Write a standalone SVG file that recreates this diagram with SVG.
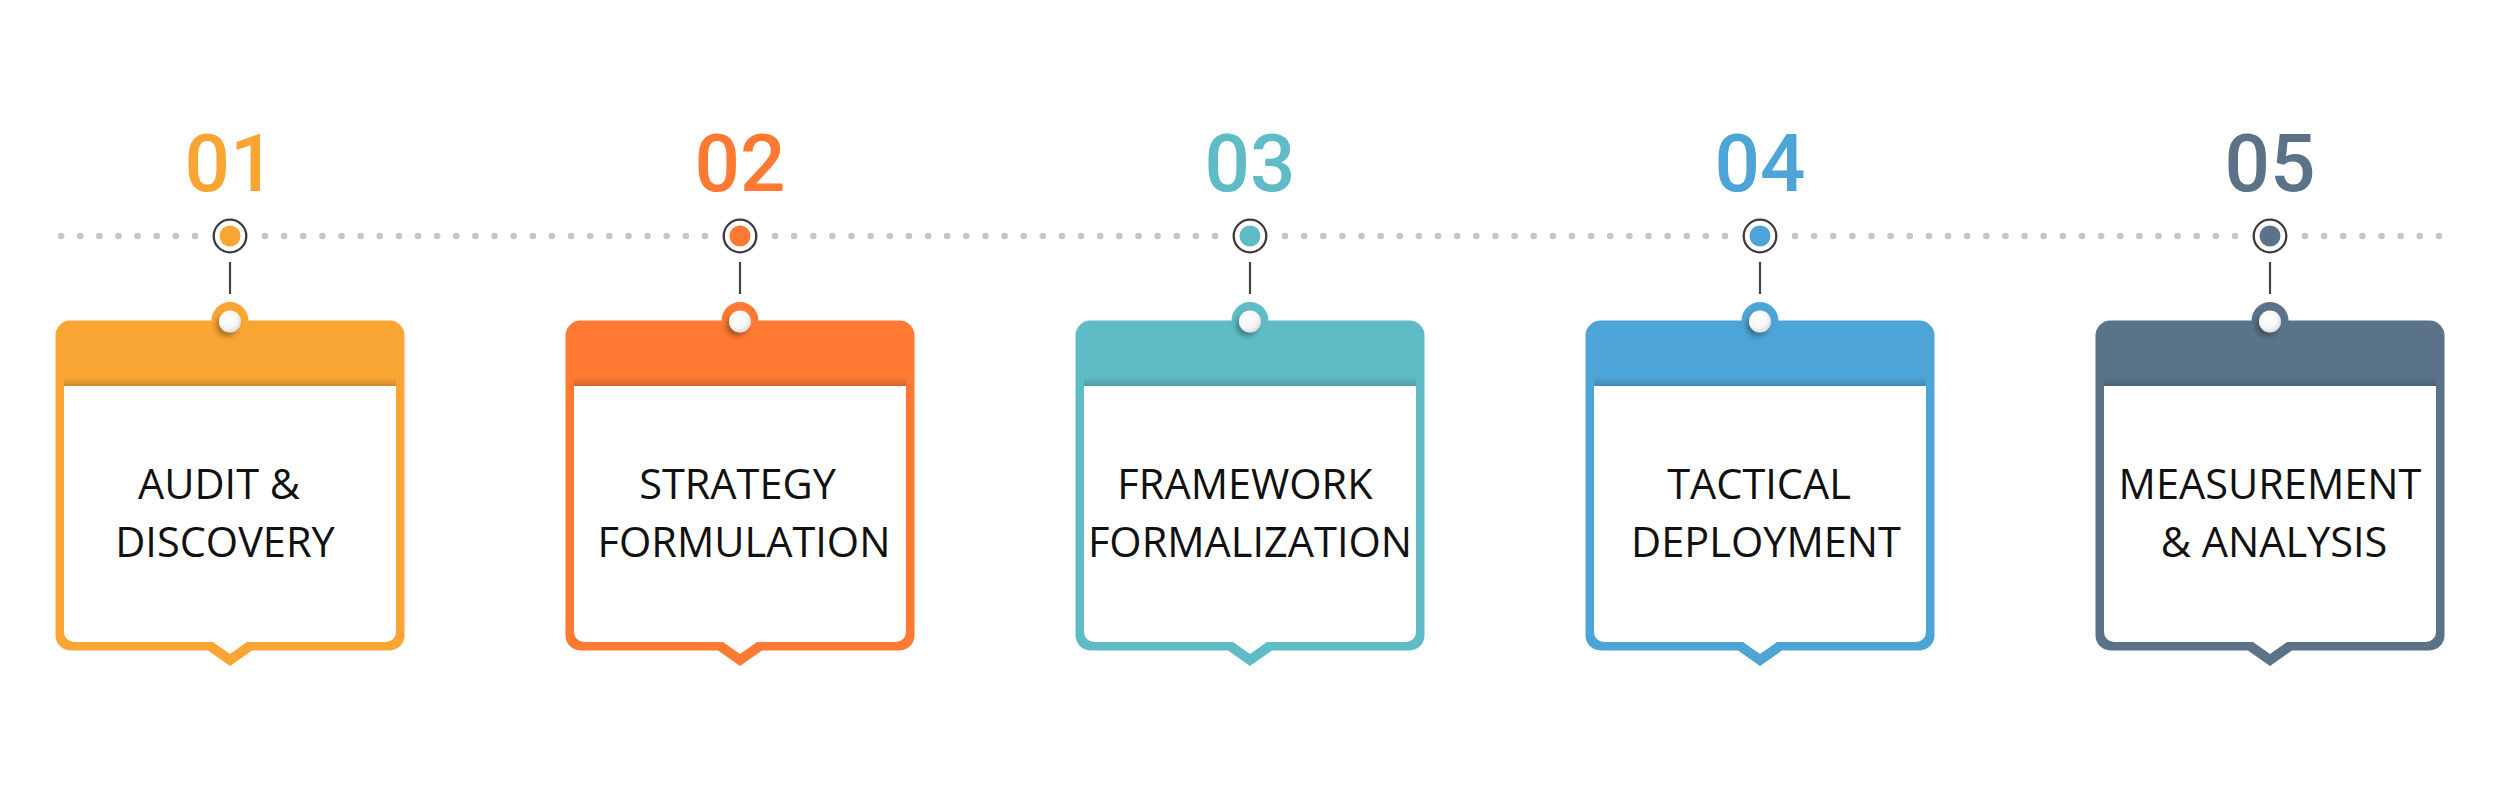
<svg xmlns="http://www.w3.org/2000/svg" width="2500" height="800" viewBox="0 0 2500 800">
  <style>
    .num { font-family: Roboto, "Liberation Sans", sans-serif; font-weight: 500; font-size: 80px; text-anchor: middle; }
    .lbl { font-family: "Open Sans", "Liberation Sans", sans-serif; font-size: 41.5px; fill: #111111; text-anchor: middle; }
    .dots { stroke: #c6c6c6; stroke-width: 6.6; stroke-linecap: round; stroke-dasharray: 0 19.13; fill: none; }
    .stem { stroke: #444444; stroke-width: 2.2; }
    .ring { fill: #ffffff; stroke: #3c3c3c; stroke-width: 2.3; }
  </style>
  <defs>
    <path id="outer" d="M-159.5,320.5 H159.5 A15,15 0 0 1 174.5,335.5 V635.5 A15,15 0 0 1 159.5,650.5 H22 L0,666 L-22,650.5 H-159.5 A15,15 0 0 1 -174.5,635.5 V335.5 A15,15 0 0 1 -159.5,320.5 Z"/>
    <path id="inner" d="M-166,386 H166 V632 A10,10 0 0 1 156,642 H17 L0,654 L-17,642 H-156 A10,10 0 0 1 -166,632 Z" fill="#ffffff"/>
    <linearGradient id="hshadow" x1="0" y1="0" x2="0" y2="1">
      <stop offset="0" stop-color="#000000" stop-opacity="0"/>
      <stop offset="1" stop-color="#000000" stop-opacity="0.16"/>
    </linearGradient>
    <rect id="hs" x="-166" y="377" width="332" height="9" fill="url(#hshadow)"/>
    <radialGradient id="knob" cx="0.4" cy="0.35" r="0.7">
      <stop offset="0" stop-color="#ffffff"/>
      <stop offset="0.6" stop-color="#f7f7f7"/>
      <stop offset="1" stop-color="#d9d9d9"/>
    </radialGradient>
    <filter id="ds" x="-100%" y="-100%" width="300%" height="300%">
      <feDropShadow dx="-3" dy="4" stdDeviation="2.5" flood-color="#000000" flood-opacity="0.3"/>
    </filter>
    <circle id="knobc" cx="0" cy="321.5" r="11" fill="url(#knob)" filter="url(#ds)"/>
  </defs>

  <rect width="2500" height="800" fill="#ffffff"/>

  <g id="connectors">
    <line class="dots" x1="61.1" y1="236" x2="195.5" y2="236"/>
    <line class="dots" x1="265" y1="236" x2="705.5" y2="236"/>
    <line class="dots" x1="775" y1="236" x2="1215.5" y2="236"/>
    <line class="dots" x1="1285" y1="236" x2="1725.5" y2="236"/>
    <line class="dots" x1="1795" y1="236" x2="2235.5" y2="236"/>
    <line class="dots" x1="2305" y1="236" x2="2439.4" y2="236"/>
    <line class="stem" x1="230" y1="262" x2="230" y2="294"/>
    <line class="stem" x1="740" y1="262" x2="740" y2="294"/>
    <line class="stem" x1="1250" y1="262" x2="1250" y2="294"/>
    <line class="stem" x1="1760" y1="262" x2="1760" y2="294"/>
    <line class="stem" x1="2270" y1="262" x2="2270" y2="294"/>
  </g>

  <g id="step1" transform="translate(230,0)">
    <text class="num" x="0" y="191" fill="#f9a533">01</text>
    <circle class="ring" cx="0" cy="236" r="16.3"/>
    <circle cx="0" cy="236" r="10.5" fill="#f9a533"/>
    <use href="#outer" fill="#f9a533"/>
    <circle cx="0" cy="320.5" r="18.5" fill="#f9a533"/>
    <use href="#inner"/>
    <use href="#hs"/>
    <use href="#knobc"/>
    <text class="lbl" x="-11" y="498.5">AUDIT &amp;</text>
    <text class="lbl" x="-5" y="556.5">DISCOVERY</text>
  </g>

  <g id="step2" transform="translate(740,0)">
    <text class="num" x="0" y="191" fill="#fe7a33">02</text>
    <circle class="ring" cx="0" cy="236" r="16.3"/>
    <circle cx="0" cy="236" r="10.5" fill="#fe7a33"/>
    <use href="#outer" fill="#fe7a33"/>
    <circle cx="0" cy="320.5" r="18.5" fill="#fe7a33"/>
    <use href="#inner"/>
    <use href="#hs"/>
    <use href="#knobc"/>
    <text class="lbl" x="-2.5" y="498.5">STRATEGY</text>
    <text class="lbl" x="4" y="556.5">FORMULATION</text>
  </g>

  <g id="step3" transform="translate(1250,0)">
    <text class="num" x="0" y="191" fill="#5fbbc5">03</text>
    <circle class="ring" cx="0" cy="236" r="16.3"/>
    <circle cx="0" cy="236" r="10.5" fill="#5fbbc5"/>
    <use href="#outer" fill="#5fbbc5"/>
    <circle cx="0" cy="320.5" r="18.5" fill="#5fbbc5"/>
    <use href="#inner"/>
    <use href="#hs"/>
    <use href="#knobc"/>
    <text class="lbl" x="-5" y="498.5">FRAMEWORK</text>
    <text class="lbl" x="0" y="556.5">FORMALIZATION</text>
  </g>

  <g id="step4" transform="translate(1760,0)">
    <text class="num" x="0" y="191" fill="#4da5d7">04</text>
    <circle class="ring" cx="0" cy="236" r="16.3"/>
    <circle cx="0" cy="236" r="10.5" fill="#4da5d7"/>
    <use href="#outer" fill="#4da5d7"/>
    <circle cx="0" cy="320.5" r="18.5" fill="#4da5d7"/>
    <use href="#inner"/>
    <use href="#hs"/>
    <use href="#knobc"/>
    <text class="lbl" x="-1" y="498.5">TACTICAL</text>
    <text class="lbl" x="6" y="556.5">DEPLOYMENT</text>
  </g>

  <g id="step5" transform="translate(2270,0)">
    <text class="num" x="0" y="191" fill="#5a7389">05</text>
    <circle class="ring" cx="0" cy="236" r="16.3"/>
    <circle cx="0" cy="236" r="10.5" fill="#5a7389"/>
    <use href="#outer" fill="#5a7389"/>
    <circle cx="0" cy="320.5" r="18.5" fill="#5a7389"/>
    <use href="#inner"/>
    <use href="#hs"/>
    <use href="#knobc"/>
    <text class="lbl" x="0" y="498.5">MEASUREMENT</text>
    <text class="lbl" x="4" y="556.5">&amp; ANALYSIS</text>
  </g>
</svg>
